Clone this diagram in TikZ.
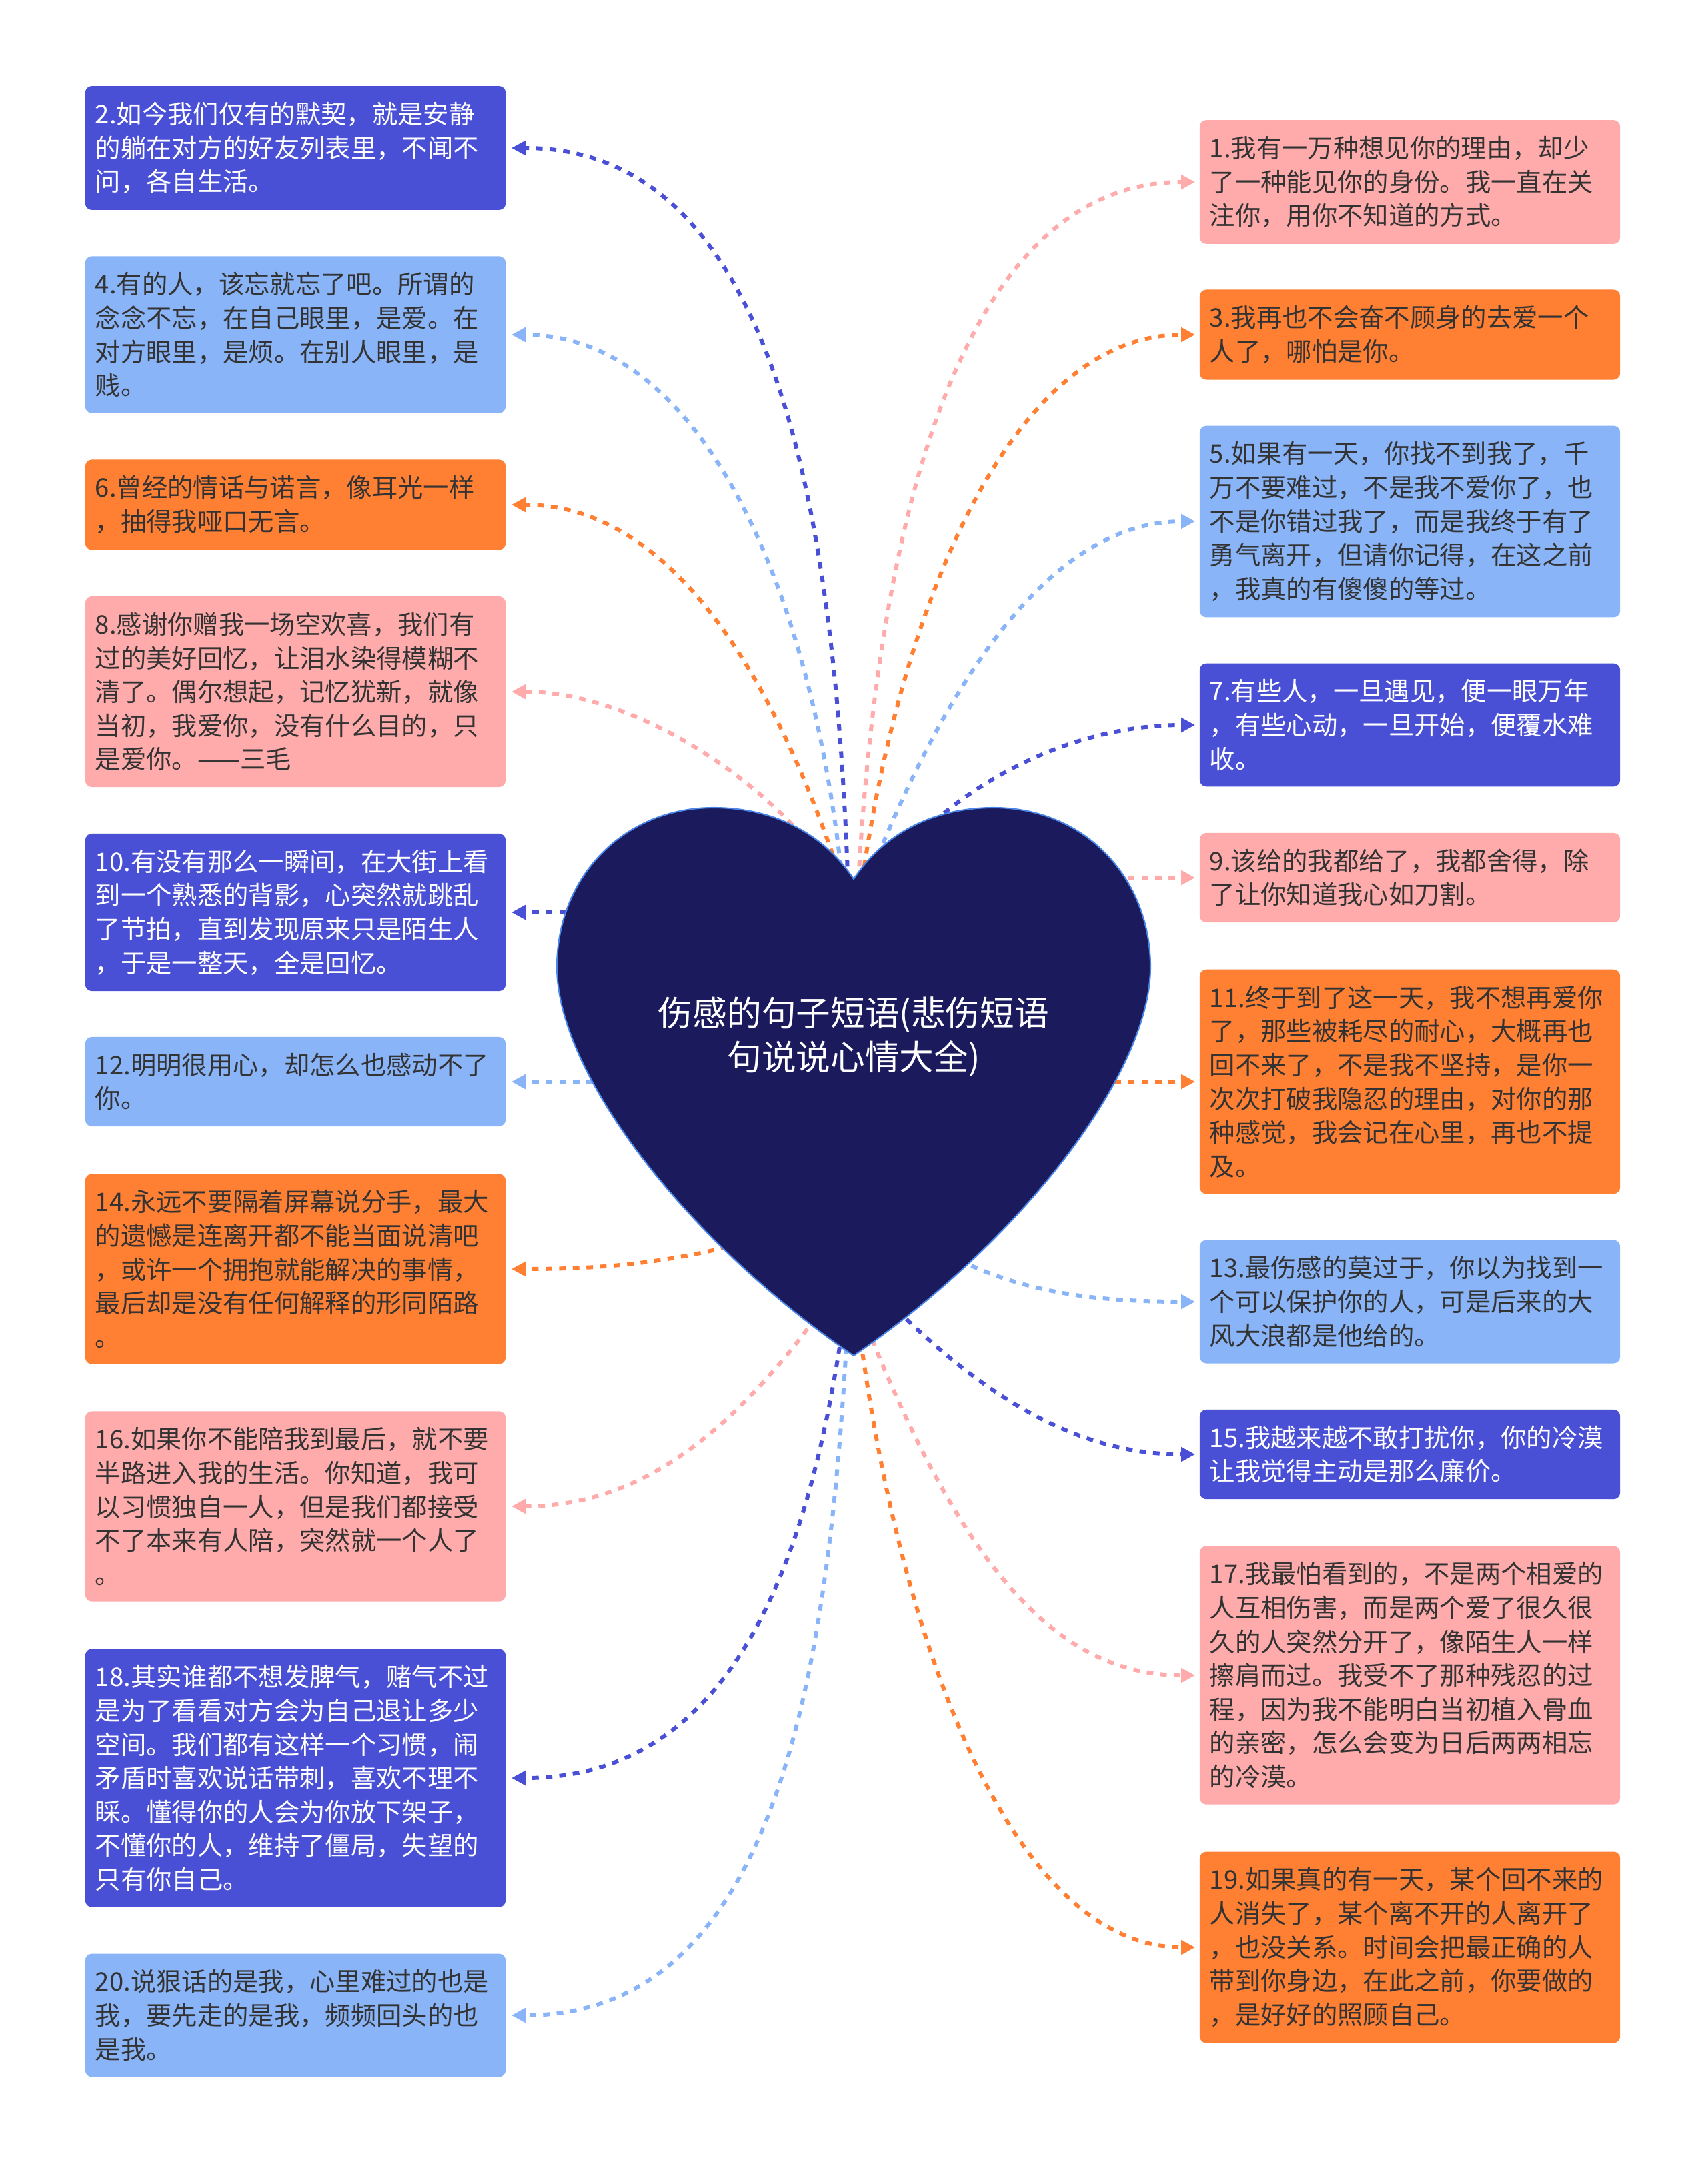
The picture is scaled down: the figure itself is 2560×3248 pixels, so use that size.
\documentclass[tikz,border=0pt]{standalone}
\usepackage{fontspec}
\newfontfamily\cjk{Noto Sans CJK SC}
\usetikzlibrary{arrows.meta}
\definecolor{dkc}{HTML}{4A50D6}
\definecolor{ltc}{HTML}{8AB4F8}
\definecolor{pkc}{HTML}{FFABAB}
\definecolor{ogc}{HTML}{FF7F33}
\definecolor{heartc}{HTML}{1A1A5C}
\definecolor{rimc}{HTML}{4A86E8}
\definecolor{inkc}{HTML}{333333}
\begin{document}
\begin{tikzpicture}[x=0.01cm,y=-0.01cm,
  card/.style={rounded corners=0.1cm, minimum width=6.3cm, text width=6.0cm,
               inner xsep=0.15cm, inner ysep=0.24cm, align=left, text=inkc,
               font=\cjk\fontsize{10.9}{14.4}\selectfont},
  dkbox/.style={card, fill=dkc, text=white},
  ltbox/.style={card, fill=ltc},
  pkbox/.style={card, fill=pkc},
  ogbox/.style={card, fill=ogc},
  title/.style={align=center, text=white, font=\cjk\fontsize{14.7}{18.8}\selectfont},
  link/.style={draw=#1, line width=1.7pt, dash pattern=on 2.8pt off 3pt,
               -{Triangle[length=6pt,width=6pt]}},
  ]
  \fill[white] (0,0) rectangle (2560,3248);
  \useasboundingbox (0,0) rectangle (2560,3248);
  % ---- left column ---------------------------------------------------------
  \node[dkbox] (l2)  at (443,222)  {2.如今我们仅有的默契，就是安静\\的躺在对方的好友列表里，不闻不\\问，各自生活。};
  \node[ltbox] (l4)  at (443,502)  {4.有的人，该忘就忘了吧。所谓的\\念念不忘，在自己眼里，是爱。在\\对方眼里，是烦。在别人眼里，是\\贱。};
  \node[ogbox] (l6)  at (443,757)  {6.曾经的情话与诺言，像耳光一样\\，抽得我哑口无言。};
  \node[pkbox] (l8)  at (443,1037) {8.感谢你赠我一场空欢喜，我们有\\过的美好回忆，让泪水染得模糊不\\清了。偶尔想起，记忆犹新，就像\\当初，我爱你，没有什么目的，只\\是爱你。——三毛};
  \node[dkbox] (l10) at (443,1368) {10.有没有那么一瞬间，在大街上看\\到一个熟悉的背影，心突然就跳乱\\了节拍，直到发现原来只是陌生人\\，于是一整天，全是回忆。};
  \node[ltbox] (l12) at (443,1622) {12.明明很用心，却怎么也感动不了\\你。};
  \node[ogbox] (l14) at (443,1903) {14.永远不要隔着屏幕说分手，最大\\的遗憾是连离开都不能当面说清吧\\，或许一个拥抱就能解决的事情，\\最后却是没有任何解释的形同陌路\\。};
  \node[pkbox] (l16) at (443,2259) {16.如果你不能陪我到最后，就不要\\半路进入我的生活。你知道，我可\\以习惯独自一人，但是我们都接受\\不了本来有人陪，突然就一个人了\\。};
  \node[dkbox] (l18) at (443,2666) {18.其实谁都不想发脾气，赌气不过\\是为了看看对方会为自己退让多少\\空间。我们都有这样一个习惯，闹\\矛盾时喜欢说话带刺，喜欢不理不\\睬。懂得你的人会为你放下架子，\\不懂你的人，维持了僵局，失望的\\只有你自己。};
  \node[ltbox] (l20) at (443,3022) {20.说狠话的是我，心里难过的也是\\我，要先走的是我，频频回头的也\\是我。};
  % ---- right column --------------------------------------------------------
  \node[pkbox] (r1)  at (2114,273)  {1.我有一万种想见你的理由，却少\\了一种能见你的身份。我一直在关\\注你，用你不知道的方式。};
  \node[ogbox] (r3)  at (2114,502)  {3.我再也不会奋不顾身的去爱一个\\人了，哪怕是你。};
  \node[ltbox] (r5)  at (2114,782)  {5.如果有一天，你找不到我了，千\\万不要难过，不是我不爱你了，也\\不是你错过我了，而是我终于有了\\勇气离开，但请你记得，在这之前\\，我真的有傻傻的等过。};
  \node[dkbox] (r7)  at (2114,1087) {7.有些人，一旦遇见，便一眼万年\\，有些心动，一旦开始，便覆水难\\收。};
  \node[pkbox] (r9)  at (2114,1316) {9.该给的我都给了，我都舍得，除\\了让你知道我心如刀割。};
  \node[ogbox] (r11) at (2114,1622) {11.终于到了这一天，我不想再爱你\\了，那些被耗尽的耐心，大概再也\\回不来了，不是我不坚持，是你一\\次次打破我隐忍的理由，对你的那\\种感觉，我会记在心里，再也不提\\及。};
  \node[ltbox] (r13) at (2114,1952) {13.最伤感的莫过于，你以为找到一\\个可以保护你的人，可是后来的大\\风大浪都是他给的。};
  \node[dkbox] (r15) at (2114,2181) {15.我越来越不敢打扰你，你的冷漠\\让我觉得主动是那么廉价。};
  \node[pkbox] (r17) at (2114,2512) {17.我最怕看到的，不是两个相爱的\\人互相伤害，而是两个爱了很久很\\久的人突然分开了，像陌生人一样\\擦肩而过。我受不了那种残忍的过\\程，因为我不能明白当初植入骨血\\的亲密，怎么会变为日后两两相忘\\的冷漠。};
  \node[ogbox] (r19) at (2114,2920) {19.如果真的有一天，某个回不来的\\人消失了，某个离不开的人离开了\\，也没关系。时间会把最正确的人\\带到你身边，在此之前，你要做的\\，是好好的照顾自己。};
  % ---- anchors on the heart ------------------------------------------------
  \coordinate (dip) at (1280,1318);
  \coordinate (tip) at (1280,2033);
  \coordinate (hl)  at (930,1555);
  \coordinate (hr)  at (1630,1555);
  % ---- links, left ---------------------------------------------------------
  \draw[link=dkc] ([shift={(-8,22)}]dip) .. controls +(-22,-690) and +(354,0) .. ([xshift=0.08cm]l2.east);
  \draw[link=ltc] ([shift={(-15,22)}]dip) .. controls +(-45,-460) and +(284,0) .. ([xshift=0.08cm]l4.east);
  \draw[link=ogc] ([shift={(-12,22)}]dip) .. controls +(-108,-340) and +(234,0) .. ([xshift=0.08cm]l6.east);
  \draw[link=pkc] ([shift={(-40,-18)}]dip) .. controls +(-90,-130) and +(184,0) .. ([xshift=0.08cm]l8.east);
  \draw[link=dkc] (l10.east -| hl) -- ([xshift=0.08cm]l10.east);
  \draw[link=ltc] (l12.east -| hl) -- ([xshift=0.08cm]l12.east);
  \draw[link=ogc] ([shift={(-150,-173)}]tip) .. controls +(-130,35) and +(134,0) .. ([xshift=0.08cm]l14.east);
  \draw[link=pkc] ([shift={(-45,-73)}]tip) .. controls +(-144,200) and +(184,0) .. ([xshift=0.08cm]l16.east);
  \draw[link=dkc] ([shift={(-18,-33)}]tip) .. controls +(-57,380) and +(314,0) .. ([xshift=0.08cm]l18.east);
  \draw[link=ltc] ([shift={(-10,-33)}]tip) .. controls +(-30,550) and +(384,0) .. ([xshift=0.08cm]l20.east);
  % ---- links, right --------------------------------------------------------
  \draw[link=pkc] ([shift={(6,22)}]dip) .. controls +(34,-640) and +(-323,0) .. ([xshift=-0.06cm]r1.west);
  \draw[link=ogc] ([shift={(10,22)}]dip) .. controls +(60,-440) and +(-273,0) .. ([xshift=-0.06cm]r3.west);
  \draw[link=ltc] ([shift={(14,22)}]dip) .. controls +(126,-330) and +(-213,0) .. ([xshift=-0.06cm]r5.west);
  \draw[link=dkc] ([shift={(90,-58)}]dip) .. controls +(100,-100) and +(-173,0) .. ([xshift=-0.06cm]r7.west);
  \draw[link=pkc] (r9.west -| hr) -- ([xshift=-0.06cm]r9.west);
  \draw[link=ogc] (r11.west -| hr) -- ([xshift=-0.06cm]r11.west);
  \draw[link=ltc] ([shift={(140,-153)}]tip) .. controls +(110,60) and +(-143,0) .. ([xshift=-0.06cm]r13.west);
  \draw[link=dkc] ([shift={(50,-83)}]tip) .. controls +(150,150) and +(-173,0) .. ([xshift=-0.06cm]r15.west);
  \draw[link=pkc] ([shift={(20,-43)}]tip) .. controls +(140,350) and +(-213,0) .. ([xshift=-0.06cm]r17.west);
  \draw[link=ogc] ([shift={(8,-43)}]tip) .. controls +(62,480) and +(-273,0) .. ([xshift=-0.06cm]r19.west);
  % ---- the heart -----------------------------------------------------------
  \draw[draw=rimc, line width=0.6pt, fill=heartc]
    (dip) .. controls (1325,1250) and (1400,1211) .. (1490,1211)
          .. controls (1625,1211) and (1725,1315) .. (1725,1450)
          .. controls (1725,1610) and (1530,1862) .. (tip)
          .. controls (1030,1862) and (835,1610) .. (835,1450)
          .. controls (835,1315) and (935,1211) .. (1070,1211)
          .. controls (1160,1211) and (1235,1250) .. cycle;
  \node[title] (root) at (1280,1555) {伤感的句子短语(悲伤短语\\句说说心情大全)};
\end{tikzpicture}
\end{document}
